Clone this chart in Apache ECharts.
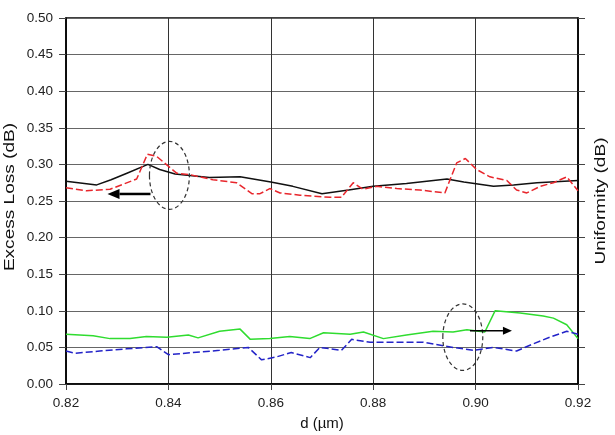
<!DOCTYPE html>
<html>
<head>
<meta charset="utf-8">
<script src="https://cdn.jsdelivr.net/npm/echarts@6/dist/echarts.min.js"></script>
<style>
  html, body { margin: 0; padding: 0; background: #fff; }
  #chart { width: 615px; height: 435px; }
</style>
</head>
<body>
<div id="chart"></div>
<script>
// 坐标刻度
var xTicks = [0.82, 0.84, 0.86, 0.88, 0.90, 0.92];
var yTicks = [0, 0.05, 0.1, 0.15, 0.2, 0.25, 0.3, 0.35, 0.4, 0.45, 0.5];

// Excess Loss (黑色实线)
var blackX = [0.820, 0.826, 0.8288, 0.8319, 0.836, 0.8383, 0.8413, 0.848, 0.854, 0.860, 0.8643, 0.870, 0.8752, 0.880, 0.8865, 0.8944, 0.8977, 0.9035, 0.9074, 0.912, 0.920];
var blackY = [0.277, 0.272, 0.279, 0.288, 0.300, 0.293, 0.287, 0.282, 0.283, 0.276, 0.270, 0.260, 0.265, 0.270, 0.274, 0.280, 0.276, 0.270, 0.272, 0.275, 0.278];

// 红色虚线
var redX = [0.820, 0.824, 0.8286, 0.8338, 0.8359, 0.8377, 0.8416, 0.8442, 0.8487, 0.8533, 0.8563, 0.8579, 0.8598, 0.8618, 0.8657, 0.8716, 0.8738, 0.8761, 0.8780, 0.8807, 0.8846, 0.8891, 0.894, 0.8963, 0.898, 0.9002, 0.9028, 0.9061, 0.9080, 0.910, 0.9126, 0.9152, 0.9178, 0.920];
var redY = [0.268, 0.264, 0.266, 0.280, 0.314, 0.311, 0.288, 0.286, 0.279, 0.275, 0.260, 0.260, 0.267, 0.261, 0.258, 0.255, 0.255, 0.275, 0.266, 0.270, 0.267, 0.265, 0.261, 0.302, 0.308, 0.293, 0.283, 0.278, 0.265, 0.261, 0.270, 0.275, 0.283, 0.264];

// Uniformity (绿色实线)
var greenX = [0.820, 0.8253, 0.8286, 0.8325, 0.8357, 0.8397, 0.8439, 0.8458, 0.850, 0.854, 0.856, 0.8598, 0.8637, 0.8676, 0.8703, 0.8755, 0.8781, 0.882, 0.8865, 0.8917, 0.8956, 0.8983, 0.9018, 0.9038, 0.9087, 0.9132, 0.9152, 0.9178, 0.920];
var greenY = [0.068, 0.066, 0.062, 0.062, 0.065, 0.064, 0.067, 0.063, 0.072, 0.075, 0.061, 0.062, 0.065, 0.062, 0.070, 0.068, 0.071, 0.062, 0.067, 0.072, 0.071, 0.074, 0.071, 0.100, 0.097, 0.093, 0.090, 0.081, 0.062];

// 蓝色虚线
var blueX = [0.820, 0.8218, 0.8266, 0.8318, 0.8377, 0.840, 0.8448, 0.850, 0.8556, 0.8582, 0.8611, 0.864, 0.8677, 0.8696, 0.8738, 0.8758, 0.8794, 0.8826, 0.8898, 0.8956, 0.8996, 0.9035, 0.908, 0.9113, 0.9145, 0.9178, 0.920];
var blueY = [0.045, 0.042, 0.045, 0.048, 0.051, 0.040, 0.043, 0.046, 0.050, 0.033, 0.037, 0.043, 0.036, 0.050, 0.046, 0.061, 0.057, 0.057, 0.057, 0.050, 0.046, 0.050, 0.045, 0.055, 0.064, 0.072, 0.068];

// 注释: 椭圆与箭头 (数据坐标)
var ellipses = [
  { cx: 0.8402, cy: 0.285, rx: 0.0039, ry: 0.0464 },
  { cx: 0.8975, cy: 0.064, rx: 0.0039, ry: 0.0455 }
];
var arrows = [
  { from: [0.8365, 0.2596], to: [0.8281, 0.2596], width: 2.5, head: 12, half: 5 },
  { from: [0.8989, 0.0726], to: [0.9071, 0.0726], width: 1.5, head: 9, half: 4 }
];

function pairs(xs, ys) {
  return xs.map(function (x, i) { return [x, ys[i]]; });
}

var font = 'Liberation Sans, Arial, sans-serif';

var chart = echarts.init(document.getElementById('chart'), null, { renderer: 'canvas' });

var yAxisBase = {
  type: 'value',
  min: 0,
  max: 0.5,
  interval: 0.05,
  axisLine: { show: true, lineStyle: { color: '#000', width: 1.5 } },
  axisTick: { show: true, inside: false, length: 7, lineStyle: { color: '#444' } }
};

chart.setOption({
  animation: false,
  backgroundColor: '#fff',
  grid: {
    left: 66, right: 37, top: 18, bottom: 51,
    outerBoundsMode: 'none', containLabel: false,
    show: true, borderColor: '#000', borderWidth: 1.5
  },
  xAxis: {
    type: 'value',
    min: xTicks[0],
    max: xTicks[xTicks.length - 1],
    interval: 0.02,
    name: 'd (\u00b5m)',
    nameLocation: 'middle',
    nameGap: 32,
    nameTextStyle: { fontFamily: font, fontSize: 15, color: '#111' },
    axisLine: { show: true, onZero: false, lineStyle: { color: '#000', width: 1.5 } },
    axisTick: { show: true, length: 6, lineStyle: { color: '#444' } },
    axisLabel: {
      fontFamily: font, fontSize: 13.5, color: '#222', margin: 12,
      formatter: function (v) { return v.toFixed(2); },
      showMinLabel: true, showMaxLabel: true
    },
    splitLine: { show: true, lineStyle: { color: '#333', width: 1 } }
  },
  yAxis: [
    Object.assign({}, yAxisBase, {
      position: 'left',
      axisLabel: {
        fontFamily: font, fontSize: 13.5, color: '#222', margin: 13,
        formatter: function (v) { return v.toFixed(2); }
      },
      splitLine: { show: true, lineStyle: { color: '#666', width: 1 } }
    }),
    Object.assign({}, yAxisBase, {
      position: 'right',
      axisLabel: { show: false },
      splitLine: { show: false }
    })
  ],
  series: [
    {
      name: 'Excess Loss', type: 'line', yAxisIndex: 0, symbol: 'none',
      lineStyle: { color: '#111', width: 1.5 },
      data: pairs(blackX, blackY)
    },
    {
      name: 'Excess Loss 2', type: 'line', yAxisIndex: 0, symbol: 'none',
      lineStyle: { color: '#e8262c', width: 1.5, type: [7, 3] },
      data: pairs(redX, redY)
    },
    {
      name: 'Uniformity', type: 'line', yAxisIndex: 1, symbol: 'none',
      lineStyle: { color: '#2fdc2f', width: 1.5 },
      data: pairs(greenX, greenY)
    },
    {
      name: 'Uniformity 2', type: 'line', yAxisIndex: 1, symbol: 'none',
      lineStyle: { color: '#2323c8', width: 1.5, type: [7, 3] },
      data: pairs(blueX, blueY)
    }
  ]
});

// 注释图形: 用坐标转换到像素
var elements = [];
ellipses.forEach(function (e) {
  var c = chart.convertToPixel({ gridIndex: 0 }, [e.cx, e.cy]);
  var p = chart.convertToPixel({ gridIndex: 0 }, [e.cx + e.rx, e.cy + e.ry]);
  elements.push({
    type: 'ellipse',
    shape: { cx: c[0], cy: c[1], rx: Math.abs(p[0] - c[0]), ry: Math.abs(c[1] - p[1]) },
    style: { fill: 'none', stroke: '#333', lineWidth: 1.2, lineDash: [4, 3] },
    z: 10
  });
});
arrows.forEach(function (a) {
  var s = chart.convertToPixel({ gridIndex: 0 }, a.from);
  var t = chart.convertToPixel({ gridIndex: 0 }, a.to);
  var dir = t[0] > s[0] ? 1 : -1;
  var base = t[0] - dir * a.head;
  elements.push({
    type: 'line',
    shape: { x1: s[0], y1: s[1], x2: base, y2: t[1] },
    style: { stroke: '#000', lineWidth: a.width },
    z: 10
  });
  elements.push({
    type: 'polygon',
    shape: { points: [[t[0], t[1]], [base, t[1] - a.half], [base, t[1] + a.half]] },
    style: { fill: '#000' },
    z: 10
  });
});

// 纵轴标题 (原图文字沿方向拉长)
var plotTop = chart.convertToPixel({ gridIndex: 0 }, [0.82, 0.5]);
var plotBottom = chart.convertToPixel({ gridIndex: 0 }, [0.92, 0]);
var midY = (plotTop[1] + plotBottom[1]) / 2;
elements.push({
  type: 'text', x: 9.5, y: midY - 4, rotation: Math.PI / 2, scaleX: 1.27,
  style: { text: 'Excess Loss (dB)', fontFamily: font, fontSize: 15, fill: '#111', align: 'center', verticalAlign: 'middle' }
});
elements.push({
  type: 'text', x: 601, y: midY, rotation: Math.PI / 2, scaleX: 1.27,
  style: { text: 'Uniformity (dB)', fontFamily: font, fontSize: 15, fill: '#111', align: 'center', verticalAlign: 'middle' }
});
chart.setOption({ graphic: { elements: elements } });
</script>
</body>
</html>
